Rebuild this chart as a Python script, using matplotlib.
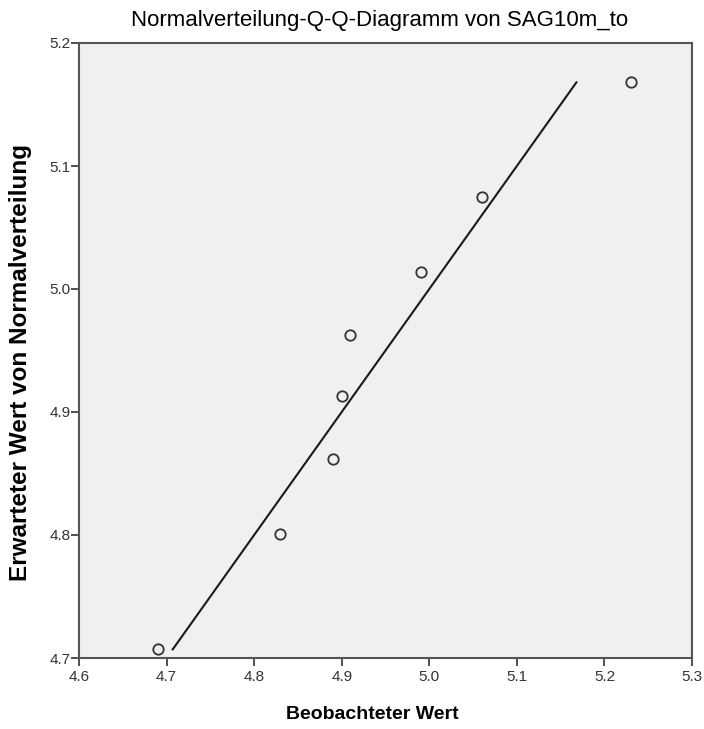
import matplotlib
matplotlib.use("Agg")
import matplotlib.pyplot as plt

plt.rcParams['font.family'] = ['Liberation Sans', 'DejaVu Sans']

observed = [4.69, 4.83, 4.89, 4.90, 4.91, 4.99, 5.06, 5.23]
expected = [4.707, 4.801, 4.862, 4.913, 4.963, 5.014, 5.075, 5.168]
ref_line = [min(expected), max(expected)]
x_ticks = [4.6, 4.7, 4.8, 4.9, 5.0, 5.1, 5.2, 5.3]
y_ticks = [4.7, 4.8, 4.9, 5.0, 5.1, 5.2]

fig = plt.figure(figsize=(7.04, 7.29), dpi=100)
ax = fig.add_axes([79/704, 71/729, 613/704, 615/729])
ax.set_facecolor('#F0F0F0')

ax.plot(ref_line, ref_line, color='#1a1a1a', lw=1.5, zorder=2)
ax.plot(observed, expected, linestyle='none', marker='o', ms=7.5,
        mfc='none', mec='#333333', mew=1.3, zorder=3)

ax.set_xlim(4.6, 5.3)
ax.set_ylim(4.7, 5.2)
ax.set_xticks(x_ticks)
ax.set_yticks(y_ticks)
ax.set_xticklabels([f"{v:.1f}" for v in x_ticks])
ax.set_yticklabels([f"{v:.1f}" for v in y_ticks])
ax.tick_params(direction='out', length=5.5, width=1.2, color='#333333',
               labelsize=11, labelcolor='#333333')
ax.tick_params(axis='x', pad=3)
ax.tick_params(axis='y', pad=0.5)
for s in ax.spines.values():
    s.set_color('#555555')
    s.set_linewidth(1.5)

ax.set_xlabel('Beobachteter Wert', fontsize=14, fontweight='bold')
ax.xaxis.set_label_coords(0.478, -0.078)
ax.set_ylabel('Erwarteter Wert von Normalverteilung', fontsize=17.5,
              fontweight='bold')
ax.yaxis.set_label_coords(-0.077, 0.48)
ax.set_title('Normalverteilung-Q-Q-Diagramm von SAG10m_to', fontsize=16,
             pad=12, x=0.491)

fig.savefig('out.png', dpi=100, facecolor='white')
